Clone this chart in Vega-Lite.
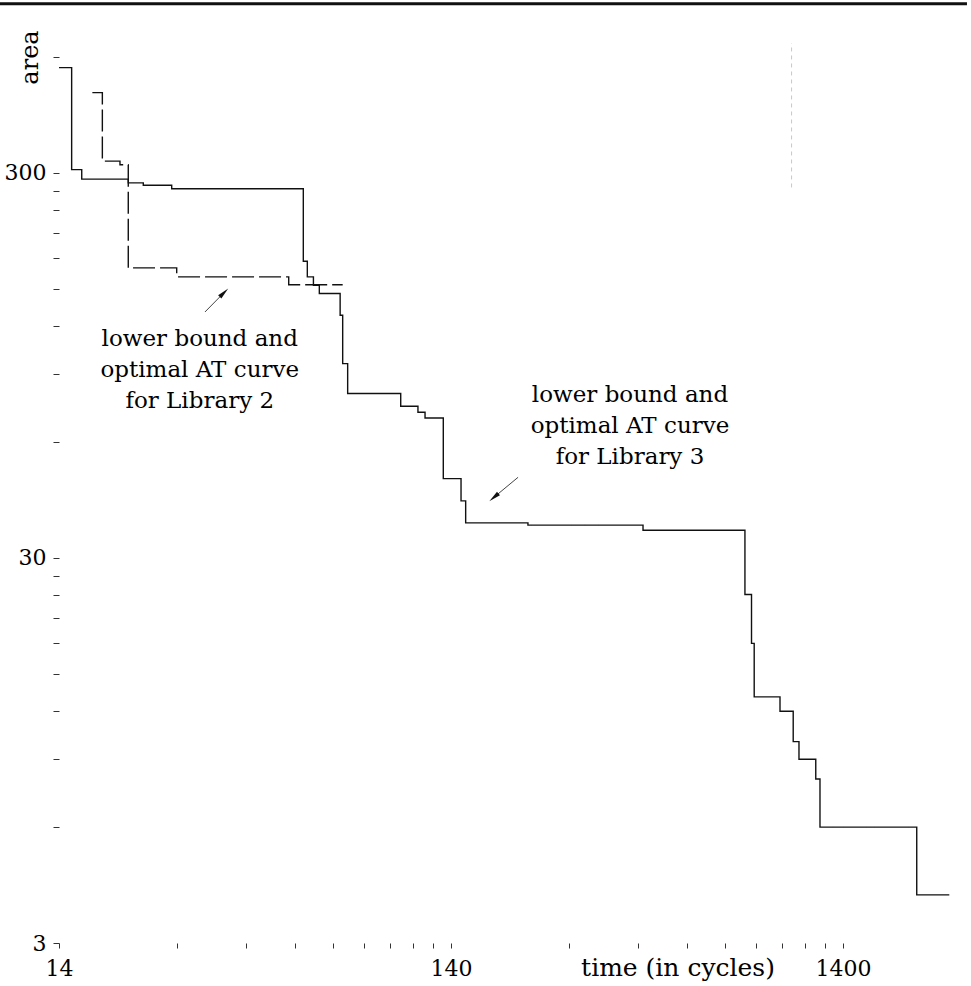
{
  "$schema": "https://vega.github.io/schema/vega-lite/v6.json",
  "width": 902,
  "height": 886,
  "autosize": {"type": "none"},
  "padding": {"left": 59, "top": 57, "right": 10, "bottom": 43},
  "background": "white",
  "config": {"view": {"stroke": null}, "font": "DejaVu Serif"},
  "datasets": {
    "curves": [
      {"series": "Library 3", "time": 14, "area": 563},
      {"series": "Library 3", "time": 15.08, "area": 306},
      {"series": "Library 3", "time": 16.0, "area": 289},
      {"series": "Library 3", "time": 21.03, "area": 282.6},
      {"series": "Library 3", "time": 22.97, "area": 278.7},
      {"series": "Library 3", "time": 27.14, "area": 272.9},
      {"series": "Library 3", "time": 58.8, "area": 176.9},
      {"series": "Library 3", "time": 60.2, "area": 161.1},
      {"series": "Library 3", "time": 62.4, "area": 153.3},
      {"series": "Library 3", "time": 64.6, "area": 145.8},
      {"series": "Library 3", "time": 73.0, "area": 128.1},
      {"series": "Library 3", "time": 74.1, "area": 95.9},
      {"series": "Library 3", "time": 76.3, "area": 80.2},
      {"series": "Library 3", "time": 104.2, "area": 74.3},
      {"series": "Library 3", "time": 115.3, "area": 71.7},
      {"series": "Library 3", "time": 120.2, "area": 69.3},
      {"series": "Library 3", "time": 133.8, "area": 48.2},
      {"series": "Library 3", "time": 148.5, "area": 42.2},
      {"series": "Library 3", "time": 152.6, "area": 37.0},
      {"series": "Library 3", "time": 220, "area": 36.5},
      {"series": "Library 3", "time": 432.5, "area": 35.4},
      {"series": "Library 3", "time": 787, "area": 24.1},
      {"series": "Library 3", "time": 818, "area": 18.0},
      {"series": "Library 3", "time": 831, "area": 13.07},
      {"series": "Library 3", "time": 967, "area": 12.0},
      {"series": "Library 3", "time": 1045, "area": 10.0},
      {"series": "Library 3", "time": 1081, "area": 9.0},
      {"series": "Library 3", "time": 1193, "area": 8.0},
      {"series": "Library 3", "time": 1223, "area": 6.0},
      {"series": "Library 3", "time": 2159, "area": 4.0},
      {"series": "Library 3", "time": 2614, "area": 4.0},
      {"series": "Library 2", "time": 17.03, "area": 485},
      {"series": "Library 2", "time": 18.06, "area": 322},
      {"series": "Library 2", "time": 20.03, "area": 315},
      {"series": "Library 2", "time": 21.03, "area": 170},
      {"series": "Library 2", "time": 27.95, "area": 161.1},
      {"series": "Library 2", "time": 53.97, "area": 153.7},
      {"series": "Library 2", "time": 74.1, "area": 153.7}
    ],
    "notes": [
      {"time": 32.0, "area": 106.4, "text": "lower bound and"},
      {"time": 32.0, "area": 88.4, "text": "optimal AT curve"},
      {"time": 32.0, "area": 73.4, "text": "for Library 2"},
      {"time": 400.6, "area": 76.1, "text": "lower bound and"},
      {"time": 400.6, "area": 63.3, "text": "optimal AT curve"},
      {"time": 400.6, "area": 52.5, "text": "for Library 3"}
    ],
    "arrows": [
      {"arrow": "L2", "time": 33.0, "area": 130.6, "time2": 36.9, "area2": 146.6},
      {"arrow": "L3", "time": 207.6, "area": 48.6, "time2": 180.1, "area2": 43.1}
    ],
    "page": [{"time": 9.9, "time2": 2900, "area": 825}],
    "scan": [{"time": 1035, "area": 275, "area2": 652}]
  },
  "layer": [
    {
      "data": {"name": "curves"},
      "mark": {"type": "line", "interpolate": "step-after", "color": "#111", "strokeWidth": 1.4},
      "encoding": {
        "x": {
          "field": "time", "type": "quantitative",
          "scale": {"type": "log", "domain": [14, 2800], "nice": false},
          "axis": {
            "values": [14, 28, 42, 56, 70, 84, 98, 112, 126, 140, 280, 420, 560, 700, 840, 980, 1120, 1260, 1400],
            "labelExpr": "datum.value == 14 || datum.value == 140 || datum.value == 1400 ? format(datum.value, 'd') : ''",
            "domain": false, "grid": false,
            "tickSize": 5, "tickColor": "#333", "tickWidth": 1,
            "labelFont": "DejaVu Serif", "labelFontSize": 22, "labelColor": "#000",
            "labelBaseline": "alphabetic", "labelPadding": 27, "labelFlush": false, "labelOverlap": false,
            "title": "time (in cycles)", "titleFont": "DejaVu Serif", "titleFontSize": 25, "titleFontWeight": "normal", "titleColor": "#000",
            "titleX": 618.5, "titleY": 32, "titleAlign": "center", "titleBaseline": "alphabetic"
          }
        },
        "y": {
          "field": "area", "type": "quantitative",
          "scale": {"type": "log", "domain": [3, 600], "nice": false},
          "axis": {
            "values": [3, 6, 9, 12, 15, 18, 21, 24, 27, 30, 60, 90, 120, 150, 180, 210, 240, 270, 300, 600],
            "labelExpr": "datum.value == 3 || datum.value == 30 || datum.value == 300 ? format(datum.value, 'd') : ''",
            "domain": false, "grid": false,
            "tickSize": 6, "tickColor": "#333", "tickWidth": 1,
            "labelFont": "DejaVu Serif", "labelFontSize": 22, "labelColor": "#000",
            "labelPadding": 7, "labelBaseline": "middle", "labelFlush": false, "labelOverlap": false,
            "title": "area", "titleFont": "DejaVu Serif", "titleFontSize": 24, "titleFontWeight": "normal", "titleColor": "#000",
            "titleX": -29, "titleY": 0, "titleAngle": -90, "titleAlign": "center", "titleBaseline": "middle"
          }
        },
        "strokeDash": {"field": "series", "type": "nominal", "scale": {"domain": ["Library 3", "Library 2"], "range": [[1, 0], [22, 5]]}, "legend": null}
      }
    },
    {
      "data": {"name": "page"},
      "mark": {"type": "rule", "color": "#111", "strokeWidth": 3, "clip": false},
      "encoding": {
        "x": {"field": "time", "type": "quantitative", "scale": {"type": "log", "domain": [14, 2800], "nice": false}},
        "x2": {"field": "time2"},
        "y": {"field": "area", "type": "quantitative", "scale": {"type": "log", "domain": [3, 600], "nice": false}}
      }
    },
    {
      "data": {"name": "scan"},
      "mark": {"type": "rule", "color": "#c8c8c8", "strokeWidth": 1, "strokeDash": [4, 4], "clip": false},
      "encoding": {
        "x": {"field": "time", "type": "quantitative", "scale": {"type": "log", "domain": [14, 2800], "nice": false}},
        "y": {"field": "area", "type": "quantitative", "scale": {"type": "log", "domain": [3, 600], "nice": false}},
        "y2": {"field": "area2"}
      }
    },
    {
      "data": {"name": "notes"},
      "mark": {"type": "text", "font": "DejaVu Serif", "fontSize": 23, "align": "center", "baseline": "alphabetic", "color": "#000"},
      "encoding": {
        "x": {"field": "time", "type": "quantitative", "scale": {"type": "log", "domain": [14, 2800], "nice": false}},
        "y": {"field": "area", "type": "quantitative", "scale": {"type": "log", "domain": [3, 600], "nice": false}},
        "text": {"field": "text", "type": "nominal"}
      }
    },
    {
      "data": {"name": "arrows"},
      "mark": {"type": "rule", "color": "#444", "strokeWidth": 1},
      "encoding": {
        "x": {"field": "time", "type": "quantitative", "scale": {"type": "log", "domain": [14, 2800], "nice": false}},
        "y": {"field": "area", "type": "quantitative", "scale": {"type": "log", "domain": [3, 600], "nice": false}},
        "x2": {"field": "time2"},
        "y2": {"field": "area2"}
      }
    },
    {
      "data": {"name": "arrows"},
      "transform": [{"filter": "datum.arrow == 'L2'"}],
      "mark": {"type": "point", "shape": "M0,-1L0.38,1L-0.38,1Z", "filled": true, "color": "#111", "opacity": 1, "size": 144, "angle": 45},
      "encoding": {
        "x": {"field": "time2", "type": "quantitative", "scale": {"type": "log", "domain": [14, 2800], "nice": false}},
        "y": {"field": "area2", "type": "quantitative", "scale": {"type": "log", "domain": [3, 600], "nice": false}}
      }
    },
    {
      "data": {"name": "arrows"},
      "transform": [{"filter": "datum.arrow == 'L3'"}],
      "mark": {"type": "point", "shape": "M0,-1L0.38,1L-0.38,1Z", "filled": true, "color": "#111", "opacity": 1, "size": 144, "angle": 230},
      "encoding": {
        "x": {"field": "time2", "type": "quantitative", "scale": {"type": "log", "domain": [14, 2800], "nice": false}},
        "y": {"field": "area2", "type": "quantitative", "scale": {"type": "log", "domain": [3, 600], "nice": false}}
      }
    }
  ]
}
